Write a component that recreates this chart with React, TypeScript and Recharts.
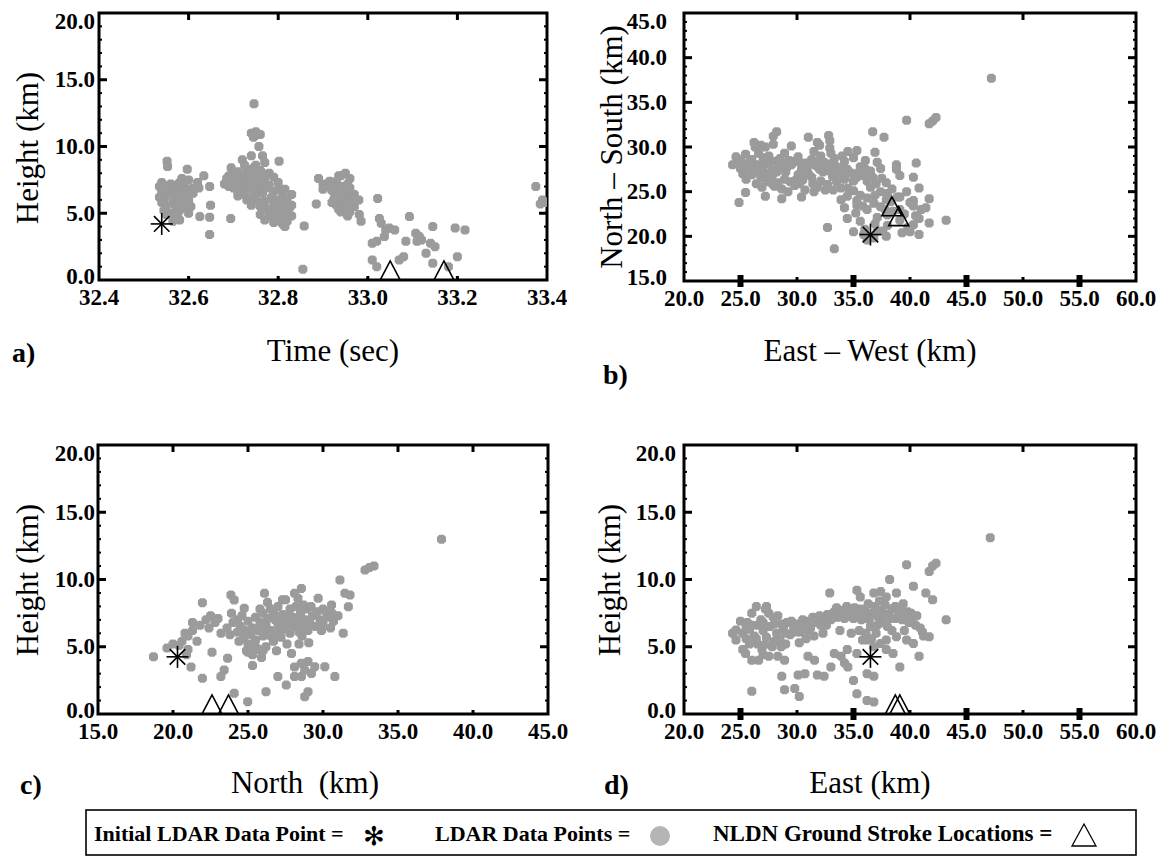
import React from 'react';
import { ScatterChart, Scatter, XAxis, YAxis, ReferenceLine, ReferenceArea } from 'recharts';

const SERIF = '"Liberation Serif", "Times New Roman", Times, serif';
const GRAY = '#9b9b9b';

type P = [number, number];

// ---------- tick label values ----------
const ticksTime = [32.4, 32.6, 32.8, 33.0, 33.2, 33.4];
const ticksHeight = [0, 5, 10, 15, 20];
const ticksEastWest = [20, 25, 30, 35, 40, 45, 50, 55, 60];
const ticksNorthSouth = [15, 20, 25, 30, 35, 40, 45];
const ticksNorth = [15, 20, 25, 30, 35, 40, 45];

// frame tick marks
const minorHeight = [1, 2, 3, 4, 6, 7, 8, 9, 11, 12, 13, 14, 16, 17, 18, 19];
const majorHeight = [5, 10, 15];
const minorNS = [16, 17, 18, 19, 21, 22, 23, 24, 26, 27, 28, 29, 31, 32, 33, 34, 36, 37, 38, 39, 41, 42, 43, 44];
const majorNS = [20, 25, 30, 35, 40];
const timeInner = [32.6, 32.8, 33.0, 33.2];
const northInner = [20, 25, 30, 35, 40];
const ewTop = [30, 40, 50];
const ewBold = [25, 35, 45, 55];

// ---------- panel a: time vs height ----------
const ldarA: P[] = [
  [32.54, 7.3], [32.55, 7.0], [32.56, 7.2], [32.57, 7.1], [32.58, 7.3], [32.59, 7.0], [32.6, 6.8], [32.54, 6.6],
  [32.55, 6.3], [32.56, 6.5], [32.57, 6.0], [32.58, 6.4], [32.59, 6.2], [32.6, 6.0], [32.61, 6.5], [32.54, 5.8],
  [32.55, 5.5], [32.57, 5.6], [32.58, 5.2], [32.59, 5.5], [32.6, 5.0], [32.56, 5.0], [32.57, 4.7], [32.58, 4.5],
  [32.55, 4.9], [32.61, 6.9], [32.62, 7.3], [32.6, 7.5], [32.585, 7.6],
  [32.535, 7.0], [32.545, 6.9], [32.565, 6.8], [32.575, 6.6], [32.585, 6.8], [32.595, 6.6], [32.535, 6.2],
  [32.545, 6.0], [32.565, 5.8], [32.575, 5.3], [32.585, 5.9], [32.595, 5.8], [32.565, 4.4], [32.575, 4.9],
  [32.605, 5.5], [32.545, 5.2],
  [32.552, 8.9], [32.553, 8.5], [32.597, 8.3], [32.634, 7.8], [32.623, 6.9], [32.647, 7.0], [32.649, 5.6],
  [32.647, 4.7], [32.625, 4.75], [32.647, 3.4], [32.694, 4.6],
  [32.69, 7.8], [32.7, 7.4], [32.71, 8.1], [32.72, 7.6], [32.73, 8.3], [32.74, 7.9], [32.75, 8.6], [32.76, 8.2],
  [32.77, 8.8], [32.72, 9.0], [32.74, 9.3], [32.7, 6.9], [32.71, 6.6], [32.72, 7.0], [32.73, 6.8], [32.74, 7.2],
  [32.75, 6.5], [32.76, 7.0], [32.77, 7.5], [32.78, 7.1], [32.79, 6.6], [32.8, 6.8], [32.81, 6.3], [32.82, 6.0],
  [32.71, 6.3], [32.73, 6.0], [32.74, 5.6], [32.75, 6.0], [32.76, 5.5], [32.77, 5.9], [32.78, 5.3], [32.79, 5.7],
  [32.8, 5.2], [32.81, 5.5], [32.82, 5.0], [32.76, 4.9], [32.77, 4.5], [32.78, 4.8], [32.79, 4.3], [32.8, 4.6],
  [32.81, 4.2], [32.82, 4.4], [32.83, 5.6], [32.83, 4.8], [32.78, 8.0], [32.79, 7.7], [32.68, 7.2], [32.69, 7.0],
  [32.8, 7.3],
  [32.695, 8.4], [32.705, 7.9], [32.715, 7.3], [32.725, 8.6], [32.735, 7.5], [32.745, 8.4], [32.755, 7.7],
  [32.765, 8.0], [32.705, 7.1], [32.725, 6.4], [32.735, 7.1], [32.745, 6.3], [32.755, 7.3], [32.765, 6.5],
  [32.775, 6.9], [32.785, 6.2], [32.795, 6.0], [32.805, 5.8], [32.815, 6.8], [32.825, 5.4], [32.785, 5.0],
  [32.795, 5.0], [32.805, 4.4], [32.815, 4.9], [32.775, 5.3], [32.765, 5.8], [32.745, 6.8], [32.725, 7.8],
  [32.685, 7.6], [32.83, 6.4], [32.815, 4.0],
  [32.746, 13.2], [32.74, 11.0], [32.75, 11.1], [32.76, 10.9], [32.745, 10.7], [32.757, 10.0],
  [32.802, 8.9], [32.765, 9.3], [32.858, 4.05], [32.855, 0.8],
  [32.89, 7.6], [32.9, 7.2], [32.91, 7.0], [32.92, 6.7], [32.93, 7.4], [32.94, 7.8], [32.95, 8.0], [32.96, 7.6],
  [32.94, 7.0], [32.95, 6.6], [32.93, 6.3], [32.94, 5.9], [32.95, 6.2], [32.96, 6.9], [32.97, 6.4], [32.96, 5.8],
  [32.95, 5.4], [32.94, 5.1], [32.93, 5.6], [32.92, 5.8], [32.97, 5.5], [32.98, 6.0], [32.955, 4.8], [32.93, 6.9],
  [32.9, 6.8], [32.915, 7.4], [32.925, 7.1], [32.935, 7.8], [32.945, 6.4], [32.955, 7.2], [32.965, 6.2],
  [32.935, 5.3], [32.945, 5.6], [32.96, 5.1], [32.925, 6.1],
  [32.885, 5.7],
  [32.981, 4.9], [32.985, 4.4], [33.022, 6.1], [33.026, 4.6], [33.03, 4.25], [33.04, 3.75], [33.037, 3.25],
  [33.048, 3.9], [33.06, 3.75], [33.01, 2.75], [33.02, 2.9], [33.01, 1.5], [33.02, 1.0], [33.07, 1.5],
  [33.08, 1.75], [33.085, 2.9], [33.093, 4.75], [33.107, 3.5], [33.115, 3.25], [33.11, 2.9], [33.12, 3.0],
  [33.13, 2.0], [33.145, 4.0], [33.14, 2.75], [33.15, 2.5], [33.145, 1.25], [33.195, 3.9], [33.217, 3.75],
  [33.2, 1.75], [33.18, 1.0],
  [33.375, 7.0], [33.39, 6.0], [33.385, 5.7], [33.395, 5.8],
];
const initialA: P[] = [[32.54, 4.2]];
const nldnA: P[] = [[33.05, 0], [33.17, 0]];

// ---------- panel b: east-west vs north-south ----------
const ldarB: P[] = [
  [47.2, 37.7], [39.7, 33.0], [41.7, 32.6], [42.0, 32.9], [42.3, 33.3], [36.7, 31.7], [37.7, 31.1],
  [28.2, 31.7], [27.9, 31.2], [31.0, 31.1], [32.8, 31.3], [32.9, 30.7], [31.8, 30.5], [26.2, 30.5], [26.8, 30.2],
  [26.3, 30.0], [27.2, 30.0], [27.9, 30.3], [29.5, 30.1], [32.0, 30.2], [32.9, 29.9], [34.5, 29.5], [35.3, 29.6],
  [36.9, 29.4], [24.6, 28.9], [25.45, 29.2], [26.0, 28.6], [27.5, 29.0], [28.5, 28.7], [30.1, 28.9], [31.3, 28.6],
  [32.1, 29.0], [33.3, 28.7], [34.2, 28.4], [35.0, 28.8], [36.05, 28.5], [37.1, 28.3], [38.8, 28.0], [40.55, 28.2],
  [24.3, 28.0], [25.0, 27.6], [26.3, 27.8], [27.2, 28.1], [28.4, 27.7], [29.5, 28.0], [30.4, 27.5], [31.7, 27.9],
  [32.6, 27.6], [33.4, 27.9], [34.45, 27.5], [35.6, 27.8], [36.5, 27.3], [37.4, 27.6], [38.8, 27.5],
  [26.0, 26.9], [26.8, 26.5], [27.8, 26.8], [28.9, 26.4], [30.1, 26.9], [31.3, 26.6], [32.1, 26.2], [33.15, 26.7],
  [34.2, 26.4], [35.3, 26.6], [36.2, 26.2], [37.5, 26.5], [39.1, 26.8], [40.3, 26.6],
  [26.9, 25.5], [27.8, 25.9], [28.65, 25.3], [29.8, 25.7], [30.7, 25.2], [31.8, 25.5], [32.7, 25.8], [33.9, 25.4],
  [35.0, 25.1], [36.5, 25.5], [37.4, 25.0], [38.4, 25.3], [39.7, 25.0], [40.8, 25.4],
  [25.45, 24.9], [24.87, 23.8],
  [27.2, 24.5], [28.65, 24.2], [30.4, 24.4], [33.9, 24.1], [34.45, 24.5], [35.3, 24.0], [36.2, 24.3], [37.9, 24.1],
  [39.1, 24.4], [40.3, 24.0], [41.7, 24.2],
  [34.2, 23.2], [35.3, 23.5], [36.2, 23.0], [37.4, 23.3], [39.1, 23.0], [40.3, 23.4], [41.4, 23.2],
  [32.7, 21.0], [34.45, 22.0], [35.6, 21.7], [37.1, 22.1], [39.1, 21.8], [40.8, 22.0], [41.7, 21.5], [43.2, 21.8],
  [35.0, 20.5], [35.9, 20.2], [37.1, 20.6], [37.9, 20.0], [40.0, 20.5], [40.8, 20.2], [36.2, 19.6], [36.8, 19.8],
  [36.0, 20.8], [33.3, 18.6],
  [38.5, 22.8], [39.5, 22.5], [40.0, 23.8], [38.0, 21.2], [39.8, 21.0], [41.0, 23.0], [40.5, 22.3],
  [25.0, 28.4], [25.7, 28.2], [26.6, 29.3], [27.0, 27.3], [27.6, 27.0], [28.0, 28.4], [28.9, 29.3], [29.0, 27.2],
  [29.9, 26.3], [30.8, 28.2], [31.0, 27.0], [31.5, 29.5], [32.3, 27.2], [32.4, 28.3], [33.0, 29.3], [33.7, 27.0],
  [33.5, 26.1], [34.0, 29.0], [34.8, 27.1], [35.5, 27.2], [29.2, 25.0], [30.2, 25.9], [31.4, 25.9], [27.4, 26.1],
  [28.3, 26.0], [25.5, 26.4], [25.2, 27.0], [26.4, 25.9],
  [24.8, 28.6], [25.3, 28.0], [25.8, 27.5], [26.1, 28.2], [26.6, 28.0], [27.0, 28.8], [27.5, 28.3], [27.8, 27.4],
  [28.2, 27.2], [28.7, 28.2], [29.1, 27.7], [29.3, 28.5], [29.8, 28.4], [30.3, 28.2], [30.6, 27.0], [30.9, 27.6],
  [31.2, 28.1], [31.8, 28.4], [32.0, 27.5], [32.8, 28.1], [33.0, 27.2], [33.9, 27.6], [34.3, 26.9], [35.0, 26.2],
  [35.9, 26.8], [36.0, 27.6], [36.7, 26.6], [37.0, 25.9], [37.9, 26.0], [38.0, 24.8], [38.9, 24.4], [26.5, 27.2],
  [27.3, 26.8], [28.0, 25.6], [29.4, 26.1], [30.5, 26.3], [31.5, 25.0], [32.5, 25.2], [33.2, 25.2], [34.5, 25.4],
  [35.6, 24.6], [36.9, 24.6], [35.8, 23.4], [36.8, 23.7], [37.8, 23.0], [38.3, 23.9], [36.9, 21.4], [38.0, 22.4],
  [35.2, 22.6], [37.6, 20.6], [39.3, 20.4], [40.3, 21.3],
];
const initialB: P[] = [[36.5, 20.2]];
const nldnB: P[] = [[38.4, 22.3], [39.0, 21.2]];

// ---------- panel c: north vs height ----------
const ldarC: P[] = [
  [32.8, 10.7], [33.1, 10.9], [33.4, 11.0], [37.9, 13.0], [31.13, 9.96], [31.46, 8.97], [31.8, 8.85], [31.69, 7.98],
  [31.35, 6.0], [28.56, 9.34], [28.1, 8.97], [28.33, 8.6], [26.1, 8.97], [23.86, 8.85], [24.08, 8.48], [21.96, 8.28],
  [29.68, 8.6], [30.57, 8.1], [24.75, 7.86],
  [24.0, 6.8], [24.5, 6.5], [25.0, 6.9], [25.5, 7.2], [26.0, 7.5], [26.5, 7.8], [27.0, 8.0], [27.3, 7.4],
  [26.8, 7.0], [26.2, 6.6], [25.7, 6.2], [25.2, 5.9], [24.7, 5.6], [24.3, 6.1], [25.0, 5.2], [25.5, 5.5],
  [26.0, 5.8], [26.5, 6.2], [27.0, 6.5], [27.5, 6.8], [28.0, 7.2], [28.5, 7.5], [28.2, 6.5], [27.8, 6.0],
  [27.2, 5.7], [26.7, 5.4], [26.2, 5.0], [25.7, 4.8], [25.3, 4.4], [24.9, 4.7], [27.5, 8.5], [28.2, 8.0],
  [28.8, 7.0], [29.3, 7.3], [29.8, 7.0], [30.3, 7.2], [30.7, 6.9], [29.5, 6.5], [29.0, 6.2], [28.6, 5.8],
  [27.6, 5.2], [30.0, 7.8], [29.2, 8.0], [23.2, 6.0], [23.6, 6.4], [22.8, 6.8], [22.2, 7.0], [21.8, 6.6],
  [21.3, 6.2], [21.0, 5.8], [20.6, 5.4], [22.5, 7.3], [23.0, 7.1], [20.4, 5.1], [20.8, 6.0],
  [25.8, 7.8], [26.3, 8.3], [27.8, 7.8], [28.9, 7.8], [24.6, 7.3], [23.9, 7.5], [26.9, 4.7], [25.9, 4.2],
  [27.9, 4.5], [28.4, 5.2], [29.9, 6.2], [30.5, 6.4], [31.0, 7.3], [30.2, 7.6], [29.05, 5.3], [25.3, 3.6],
  [24.3, 7.0], [24.8, 6.2], [25.3, 6.4], [25.8, 6.8], [26.3, 7.1], [26.7, 7.5], [27.2, 6.9], [27.7, 7.3],
  [28.3, 7.0], [28.7, 6.5], [29.1, 6.8], [29.6, 7.6], [30.0, 6.7], [30.6, 7.5], [26.0, 6.2], [26.5, 5.8],
  [27.0, 5.9], [27.4, 6.3], [27.9, 6.6], [28.4, 6.1], [25.5, 5.0], [26.0, 4.7], [25.0, 4.6], [24.4, 5.4],
  [23.8, 5.9], [22.4, 6.4], [21.6, 5.4], [21.3, 6.8], [27.3, 8.5], [28.7, 8.1],
  [19.6, 4.9], [20.0, 5.2], [21.0, 4.8], [20.9, 4.4], [18.7, 4.26], [21.2, 3.5],
  [21.96, 2.65], [22.6, 4.6], [23.64, 4.14], [23.41, 3.27], [23.19, 2.78], [24.08, 1.54], [24.98, 0.92], [26.2, 1.66],
  [26.99, 2.78], [27.55, 2.15], [28.1, 3.5], [28.56, 3.77], [29.0, 3.9], [29.45, 3.52], [28.78, 3.27], [28.1, 2.78],
  [28.56, 2.78], [29.23, 3.02], [30.12, 3.52], [28.78, 1.29], [29.0, 1.66], [30.79, 2.78],
];
const initialC: P[] = [[20.3, 4.25]];
const nldnC: P[] = [[22.6, 0], [23.7, 0]];

// ---------- panel d: east vs height ----------
const ldarD: P[] = [
  [39.7, 11.1], [42.0, 11.0], [42.3, 11.2], [41.7, 10.6], [47.1, 13.1], [38.2, 10.0], [40.3, 9.5], [41.4, 9.0],
  [42.0, 8.5], [43.2, 7.0], [32.9, 9.0], [35.3, 9.2], [35.6, 8.7], [36.8, 9.0], [37.4, 9.1], [37.9, 8.7],
  [38.8, 9.0], [39.4, 8.2],
  [26.0, 1.7], [28.65, 2.8], [28.9, 1.8], [29.8, 1.9], [30.2, 1.3], [30.1, 2.9], [30.7, 3.0], [31.8, 2.9],
  [32.4, 2.8], [31.55, 4.0], [30.97, 4.3], [33.0, 3.5], [33.3, 4.5], [34.2, 3.8], [34.5, 3.5], [35.0, 2.5],
  [35.3, 1.5], [36.2, 1.0], [36.8, 0.9], [36.8, 2.8], [36.2, 3.0], [37.9, 4.8], [38.5, 4.5], [39.1, 3.5],
  [40.8, 4.3], [38.8, 5.75], [39.7, 5.5], [40.3, 5.25], [41.1, 6.1], [41.7, 5.75], [34.45, 4.8], [35.3, 4.5],
  [33.9, 4.3], [37.4, 5.25], [37.9, 5.5], [25.2, 4.8], [25.45, 4.5], [26.0, 4.0], [26.6, 4.0], [27.5, 4.3],
  [28.3, 4.3], [28.9, 4.0], [24.6, 5.5], [24.3, 6.0], [24.6, 6.25],
  [25.2, 6.0], [25.5, 5.6], [25.8, 6.3], [26.2, 5.8], [26.5, 6.6], [26.8, 7.0], [27.0, 6.2], [27.3, 5.7],
  [27.6, 6.5], [27.9, 7.2], [28.2, 6.0], [28.5, 5.5], [28.8, 6.3], [29.1, 6.8], [29.4, 5.9], [29.7, 6.4],
  [30.0, 6.7], [30.3, 6.1], [30.6, 6.5], [30.9, 6.9], [31.2, 6.4], [31.5, 6.8], [31.8, 7.1], [32.1, 6.6],
  [32.4, 7.0], [32.7, 7.4], [33.0, 7.0], [33.3, 7.6], [33.6, 7.2], [33.9, 7.7], [34.2, 7.1], [34.5, 7.6],
  [34.8, 7.3], [35.1, 7.9], [35.4, 7.4], [35.7, 7.0], [36.0, 7.8], [36.3, 8.2], [36.6, 7.5], [36.9, 8.0],
  [37.2, 7.2], [37.5, 7.7], [37.8, 8.1], [38.1, 7.4], [38.4, 7.8], [38.7, 7.1], [39.0, 7.5], [39.3, 7.0],
  [39.6, 7.4], [39.9, 6.8], [40.2, 7.1], [40.5, 6.6], [38.0, 6.5], [37.0, 6.0], [36.5, 6.5], [36.2, 5.5],
  [36.8, 5.0], [35.5, 6.2], [34.8, 6.0], [26.5, 5.2], [27.8, 5.0], [29.0, 5.2], [30.2, 5.3], [25.0, 6.9],
  [26.0, 7.5], [27.2, 7.8], [28.0, 5.4], [26.9, 4.8], [30.8, 5.6], [31.5, 5.8], [32.3, 6.0], [33.8, 6.2],
  [37.6, 6.8], [39.5, 6.2], [26.4, 8.0], [27.3, 8.0],
  [25.6, 6.8], [26.0, 6.6], [26.4, 5.6], [27.0, 6.8], [27.5, 7.5], [28.0, 6.7], [28.3, 7.3], [28.6, 6.7],
  [29.0, 6.0], [29.5, 6.9], [30.0, 6.1], [30.5, 7.0], [31.0, 6.2], [31.4, 7.2], [32.0, 7.3], [32.6, 6.6],
  [33.2, 7.2], [33.5, 7.9], [34.0, 7.4], [34.4, 8.0], [35.0, 7.1], [35.5, 7.8], [36.1, 7.3], [36.4, 7.0],
  [37.0, 7.6], [37.3, 8.4], [37.8, 7.4], [38.3, 7.1], [38.7, 8.0], [39.2, 7.8], [39.8, 7.6], [40.1, 7.5],
  [37.1, 6.6], [38.4, 6.2], [36.1, 6.0], [35.8, 5.5], [36.6, 5.6], [25.8, 5.2], [27.2, 5.2], [28.6, 5.0],
  [27.0, 4.4], [25.5, 6.4], [40.6, 7.3], [40.9, 6.4], [41.2, 5.8],
];
const initialD: P[] = [[36.5, 4.25]];
const nldnD: P[] = [[38.7, 0], [39.1, 0]];

// ---------- marker shapes ----------
const Blob = (p: any) => {
  const { cx, cy } = p;
  if (cx == null || cy == null) return <g />;
  const a = 4.5, b = 2.2;
  return (
    <path
      d={`M${cx - a},${cy - b}L${cx - b},${cy - a}L${cx + b},${cy - a}L${cx + a},${cy - b}L${cx + a},${cy + b}L${cx + b},${cy + a}L${cx - b},${cy + a}L${cx - a},${cy + b}Z`}
      fill={GRAY}
    />
  );
};

const Star = (p: any) => {
  const { cx, cy } = p;
  if (cx == null || cy == null) return <g />;
  const r = 11;
  const d = r * Math.SQRT1_2;
  return (
    <g stroke="#000" strokeWidth={1.6}>
      <line x1={cx - r} y1={cy} x2={cx + r} y2={cy} />
      <line x1={cx} y1={cy - r} x2={cx} y2={cy + r} />
      <line x1={cx - d} y1={cy - d} x2={cx + d} y2={cy + d} />
      <line x1={cx - d} y1={cy + d} x2={cx + d} y2={cy - d} />
    </g>
  );
};

const Tri = (p: any) => {
  const { cx, cy } = p;
  if (cx == null || cy == null) return <g />;
  return (
    <path
      d={`M${cx - 10},${cy}L${cx + 10},${cy}L${cx},${cy - 19}Z`}
      fill="none"
      stroke="#000"
      strokeWidth={1.6}
    />
  );
};

const toPts = (arr: P[]) => arr.map(([x, y]) => ({ x, y }));

type Cfg = {
  left: number; top: number; w: number; h: number;
  xDomain: [number, number]; yDomain: [number, number];
  xTicks: number[]; yTicks: number[]; yGap: number;
  topMajor: number[]; bottomInner: number[]; bottomBold: number[];
  sideMinor: number[]; sideMajor: number[];
  ldar: P[]; initial: P[]; nldn: P[];
};

const panels: Cfg[] = [
  {
    left: 99, top: 13, w: 448, h: 267, xDomain: [32.4, 33.4], yDomain: [0, 20],
    xTicks: ticksTime, yTicks: ticksHeight, yGap: 4,
    topMajor: timeInner, bottomInner: timeInner, bottomBold: [],
    sideMinor: minorHeight, sideMajor: majorHeight,
    ldar: ldarA, initial: initialA, nldn: nldnA,
  },
  {
    left: 684, top: 13, w: 452, h: 268, xDomain: [20, 60], yDomain: [15, 45],
    xTicks: ticksEastWest, yTicks: ticksNorthSouth, yGap: 17,
    topMajor: ewTop, bottomInner: ewTop, bottomBold: ewBold,
    sideMinor: minorNS, sideMajor: majorNS,
    ldar: ldarB, initial: initialB, nldn: nldnB,
  },
  {
    left: 98, top: 445, w: 450, h: 269, xDomain: [15, 45], yDomain: [0, 20],
    xTicks: ticksNorth, yTicks: ticksHeight, yGap: 3,
    topMajor: northInner, bottomInner: northInner, bottomBold: [],
    sideMinor: minorHeight, sideMajor: majorHeight,
    ldar: ldarC, initial: initialC, nldn: nldnC,
  },
  {
    left: 684, top: 445, w: 452, h: 269, xDomain: [20, 60], yDomain: [0, 20],
    xTicks: ticksEastWest, yTicks: ticksHeight, yGap: 8,
    topMajor: ewTop, bottomInner: ewTop, bottomBold: ewBold,
    sideMinor: minorHeight, sideMajor: majorHeight,
    ldar: ldarD, initial: initialD, nldn: nldnD,
  },
];

function Panel({ c }: { c: Cfg }) {
  const ML = 90, MT = 16, MR = 20, XH = 46;
  const W = c.w + ML + MR;
  const H = c.h + MT + XH;
  const [x0, x1] = c.xDomain;
  const [y0, y1] = c.yDomain;
  const ux = c.w / (x1 - x0);
  const uy = c.h / (y1 - y0);

  const segs: { s: { x: number; y: number }[]; w: number }[] = [];
  c.topMajor.forEach((v) => segs.push({ s: [{ x: v, y: y1 }, { x: v, y: y1 - 7 / uy }], w: 3 }));
  c.bottomInner.forEach((v) => segs.push({ s: [{ x: v, y: y0 }, { x: v, y: y0 + 4 / uy }], w: 3 }));
  c.bottomBold.forEach((v) => segs.push({ s: [{ x: v, y: y0 - 6 / uy }, { x: v, y: y0 + 6 / uy }], w: 6 }));
  c.sideMinor.forEach((v) => {
    segs.push({ s: [{ x: x0, y: v }, { x: x0 + 3 / ux, y: v }], w: 2 });
    segs.push({ s: [{ x: x1, y: v }, { x: x1 - 3 / ux, y: v }], w: 2 });
  });
  c.sideMajor.forEach((v) => {
    segs.push({ s: [{ x: x0, y: v }, { x: x0 + 8 / ux, y: v }], w: 3 });
    segs.push({ s: [{ x: x1, y: v }, { x: x1 - 8 / ux, y: v }], w: 3 });
  });

  const xTick = (p: any) => (
    <text
      x={p.x}
      y={p.y + 17}
      textAnchor="middle"
      dominantBaseline="central"
      fontFamily={SERIF}
      fontWeight="bold"
      fontSize={23}
      fill="#000"
    >
      {Number(p.payload.value).toFixed(1)}
    </text>
  );
  const yTick = (p: any) => {
    const v = Number(p.payload.value);
    const shift = v === y1 ? 8 : v === y0 ? -4 : 0;
    return (
      <text
        x={p.x - c.yGap}
        y={p.y + shift}
        textAnchor="end"
        dominantBaseline="central"
        fontFamily={SERIF}
        fontWeight="bold"
        fontSize={23}
        fill="#000"
      >
        {v.toFixed(1)}
      </text>
    );
  };

  return (
    <div style={{ position: 'absolute', left: c.left - ML, top: c.top - MT }}>
      <ScatterChart width={W} height={H} margin={{ top: MT, right: MR, bottom: 0, left: 0 }}>
        <XAxis
          type="number"
          dataKey="x"
          domain={c.xDomain}
          ticks={c.xTicks}
          interval={0}
          allowDataOverflow
          axisLine={false}
          tickLine={false}
          tickSize={0}
          tickMargin={0}
          height={XH}
          tick={xTick}
        />
        <YAxis
          type="number"
          dataKey="y"
          domain={c.yDomain}
          ticks={c.yTicks}
          interval={0}
          allowDataOverflow
          axisLine={false}
          tickLine={false}
          tickSize={0}
          tickMargin={0}
          width={ML}
          tick={yTick}
        />
        <Scatter data={toPts(c.ldar)} shape={Blob} isAnimationActive={false} />
        <Scatter data={toPts(c.initial)} shape={Star} isAnimationActive={false} />
        <Scatter data={toPts(c.nldn)} shape={Tri} isAnimationActive={false} />
        <ReferenceArea
          x1={x0}
          x2={x1}
          y1={y0}
          y2={y1}
          fill="none"
          fillOpacity={0}
          stroke="#000"
          strokeWidth={3}
          ifOverflow="visible"
        />
        {segs.map((g, i) => (
          <ReferenceLine
            key={i}
            segment={g.s}
            stroke="#000"
            strokeWidth={g.w}
            ifOverflow="visible"
          />
        ))}
      </ScatterChart>
    </div>
  );
}

const titleStyle = { fontFamily: SERIF, fontSize: 31, fill: '#000' } as const;
const letterStyle = { fontFamily: SERIF, fontSize: 28, fontWeight: 'bold', fill: '#000' } as const;
const legendStyle = { fontFamily: SERIF, fontSize: 22, fontWeight: 'bold', fill: '#000' } as const;

export default function App() {
  return (
    <div
      style={{
        position: 'absolute',
        left: 0,
        top: 0,
        width: 1169,
        height: 859,
        background: '#fff',
        overflow: 'hidden',
      }}
    >
      {panels.map((c, i) => (
        <Panel key={i} c={c} />
      ))}
      <svg
        width={1169}
        height={859}
        style={{ position: 'absolute', left: 0, top: 0, pointerEvents: 'none' }}
      >
        {/* axis titles */}
        <text transform="translate(27,148) rotate(-90)" textAnchor="middle" dominantBaseline="central" style={titleStyle}>Height (km)</text>
        <text transform="translate(611,147) rotate(-90)" textAnchor="middle" dominantBaseline="central" style={titleStyle}>North – South (km)</text>
        <text transform="translate(27,580) rotate(-90)" textAnchor="middle" dominantBaseline="central" style={titleStyle}>Height (km)</text>
        <text transform="translate(609,580) rotate(-90)" textAnchor="middle" dominantBaseline="central" style={titleStyle}>Height (km)</text>
        <text x={333} y={350} textAnchor="middle" dominantBaseline="central" style={titleStyle}>Time (sec)</text>
        <text x={870} y={350} textAnchor="middle" dominantBaseline="central" style={titleStyle}>East – West (km)</text>
        <text x={305} y={782} textAnchor="middle" dominantBaseline="central" style={{ ...titleStyle, whiteSpace: 'pre' }}>North  (km)</text>
        <text x={870} y={782} textAnchor="middle" dominantBaseline="central" style={titleStyle}>East (km)</text>
        {/* panel letters */}
        <text x={12} y={352} dominantBaseline="central" style={letterStyle}>a)</text>
        <text x={603} y={374} dominantBaseline="central" style={letterStyle}>b)</text>
        <text x={20} y={784} dominantBaseline="central" style={letterStyle}>c)</text>
        <text x={604} y={784} dominantBaseline="central" style={letterStyle}>d)</text>
        {/* legend */}
        <rect x={86} y={810} width={1050} height={45} fill="none" stroke="#000" strokeWidth={1.6} />
        <text x={94} y={833} dominantBaseline="central" style={legendStyle}>Initial LDAR Data Point =</text>
        <text x={374} y={836} textAnchor="middle" dominantBaseline="central" style={{ fontFamily: '"DejaVu Sans", sans-serif', fontSize: 26, fontWeight: 'bold', fill: '#000' }}>✻</text>
        <text x={435} y={833} dominantBaseline="central" style={legendStyle}>LDAR Data Points =</text>
        <circle cx={660} cy={836} r={10} fill="#b5b5b5" />
        <text x={713} y={833} dominantBaseline="central" style={{ ...legendStyle, fontSize: 23 }}>NLDN Ground Stroke Locations =</text>
        <path d="M1072,846 L1096,846 L1084,824 Z" fill="none" stroke="#000" strokeWidth={1.3} />
      </svg>
    </div>
  );
}
